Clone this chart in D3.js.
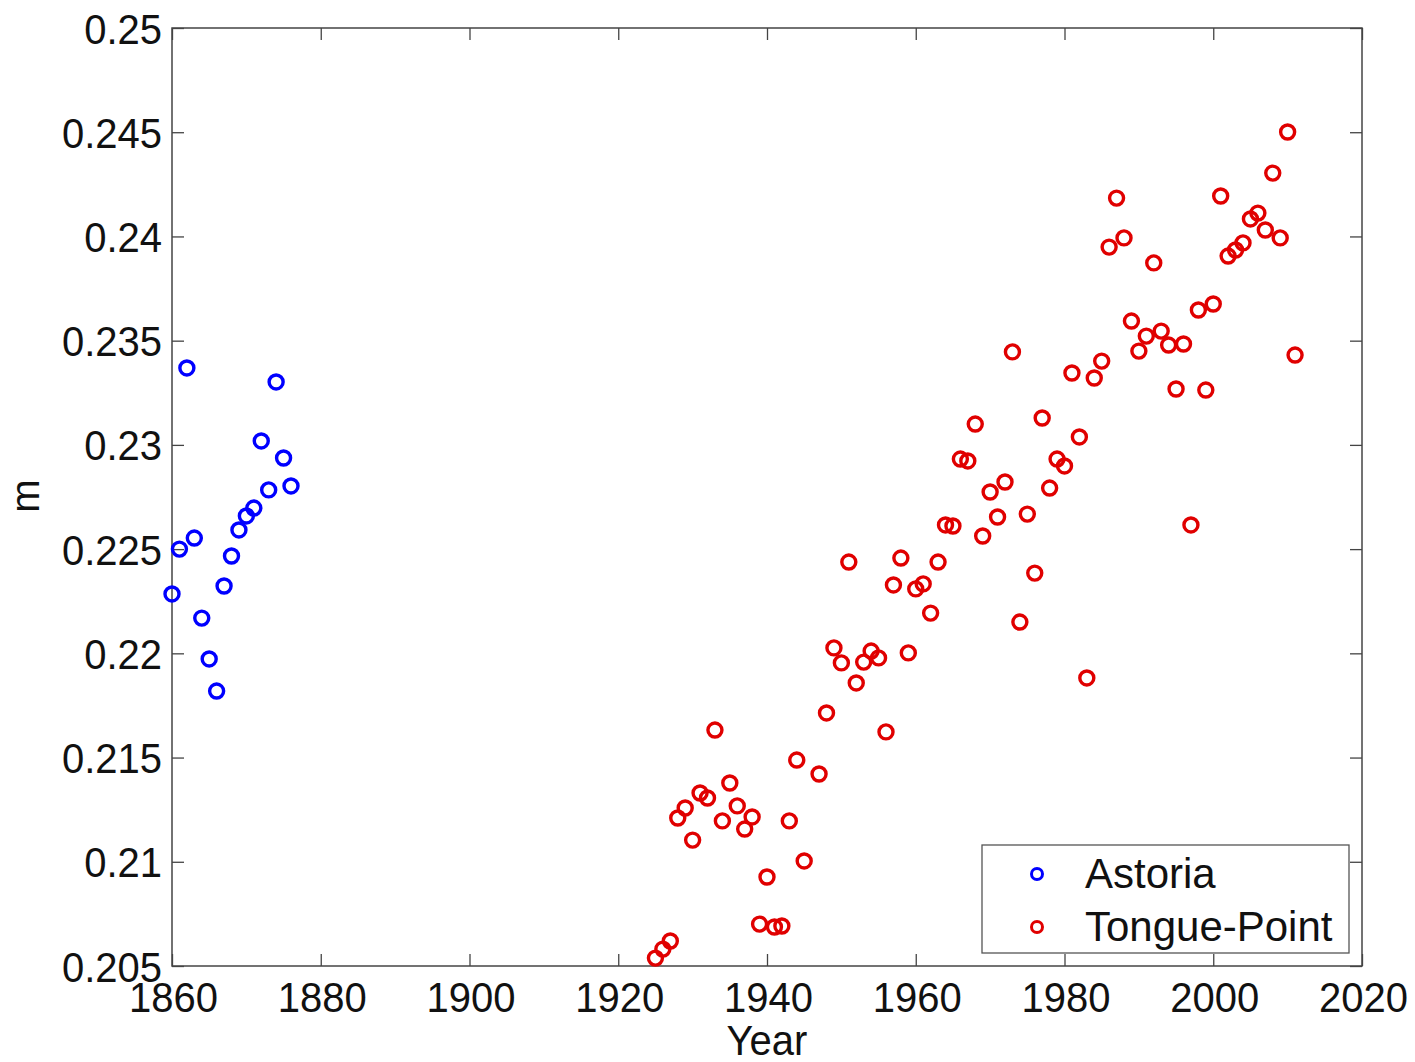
<!DOCTYPE html>
<html>
<head>
<meta charset="utf-8">
<script src="https://cdn.jsdelivr.net/npm/d3@7/dist/d3.min.js"></script>
<style>
  html, body { margin: 0; padding: 0; background: #fff; }
  svg text { font-family: "Liberation Sans", Arial, sans-serif; fill: #111; }
</style>
</head>
<body>
<svg id="chart" width="1415" height="1062"></svg>
<script>
// Annual values, Astoria gauge (1860-1876)
const astoriaYears = [1860, 1861, 1862, 1863, 1864, 1865, 1866, 1867, 1868, 1869, 1870, 1871, 1872, 1873, 1874, 1875, 1876];
const astoriaValues = [0.22285, 0.2250, 0.23369, 0.22553, 0.22169, 0.21973, 0.21819, 0.22323, 0.22467, 0.22592, 0.22659, 0.22697, 0.23019, 0.22784, 0.23302, 0.22937, 0.22803];

// Annual values, Tongue Point gauge (1925-2011, 1946 missing)
const tongueYears = [
  1925, 1926, 1927, 1928, 1929, 1930, 1931, 1932, 1933, 1934, 1935, 1936, 1937, 1938, 1939, 1940,
  1941, 1942, 1943, 1944, 1945, 1947, 1948, 1949, 1950, 1951, 1952, 1953, 1954, 1955, 1956, 1957,
  1958, 1959, 1960, 1961, 1962, 1963, 1964, 1965, 1966, 1967, 1968, 1969, 1970, 1971, 1972, 1973,
  1974, 1975, 1976, 1977, 1978, 1979, 1980, 1981, 1982, 1983, 1984, 1985, 1986, 1987, 1988, 1989,
  1990, 1991, 1992, 1993, 1994, 1995, 1996, 1997, 1998, 1999, 2000, 2001, 2002, 2003, 2004, 2005,
  2006, 2007, 2008, 2009, 2010, 2011
];
const tongueValues = [
  0.20538, 0.20581, 0.20620, 0.21210, 0.21258, 0.21104, 0.21330, 0.21306, 0.21632, 0.21196, 0.21378, 0.21268, 0.21157, 0.21215, 0.20701, 0.20927,
  0.20687, 0.20692, 0.21196, 0.21488, 0.21004, 0.21421, 0.21714, 0.22026, 0.21954, 0.22438, 0.21858, 0.21958, 0.22011, 0.21978, 0.21623, 0.22328,
  0.22457, 0.22002, 0.22309, 0.22333, 0.22193, 0.22438, 0.22616, 0.22611, 0.22932, 0.22923, 0.23100, 0.22563, 0.22774, 0.22654, 0.22822, 0.23446,
  0.22150, 0.22668, 0.22385, 0.23129, 0.22793, 0.22932, 0.22899, 0.23345, 0.23038, 0.21882, 0.23321, 0.23402, 0.23949, 0.24184, 0.23993, 0.23594,
  0.23450, 0.23522, 0.23873, 0.23546, 0.23479, 0.23268, 0.23484, 0.22616, 0.23647, 0.23263, 0.23676, 0.24194, 0.23906, 0.23935, 0.23969, 0.24084,
  0.24112, 0.24031, 0.24304, 0.23993, 0.24501, 0.23431
];

const xTicks = [1860, 1880, 1900, 1920, 1940, 1960, 1980, 2000, 2020];
const yTicks = [0.205, 0.21, 0.215, 0.22, 0.225, 0.23, 0.235, 0.24, 0.245, 0.25];
const seriesNames = ["Astoria", "Tongue-Point"];
const seriesColors = ["#0000ff", "#e00000"];

const svg = d3.select("#chart");
const plot = { left: 172, right: 1362, top: 28, bottom: 966 };

const x = d3.scaleLinear().domain([1860, 2020]).range([plot.left, plot.right]);
const y = d3.scaleLinear().domain([0.205, 0.25]).range([plot.bottom, plot.top]);

const fmtY = d => String(+d.toFixed(3));
const tickLen = 12;
const axisColor = "#444";

// Axes with inward ticks on all four sides
const gBottom = svg.append("g").attr("transform", `translate(0,${plot.bottom})`)
  .call(d3.axisBottom(x).tickValues(xTicks).tickSize(-tickLen).tickFormat(d3.format("d")));
const gTop = svg.append("g").attr("transform", `translate(0,${plot.top})`)
  .call(d3.axisTop(x).tickValues(xTicks).tickSize(-tickLen).tickFormat(""));
const gLeft = svg.append("g").attr("transform", `translate(${plot.left},0)`)
  .call(d3.axisLeft(y).tickValues(yTicks).tickSize(-tickLen).tickFormat(fmtY));
const gRight = svg.append("g").attr("transform", `translate(${plot.right},0)`)
  .call(d3.axisRight(y).tickValues(yTicks).tickSize(-tickLen).tickFormat(""));

[gBottom, gTop, gLeft, gRight].forEach(g => {
  g.select(".domain").remove();
  g.selectAll(".tick line").attr("stroke", axisColor).attr("stroke-width", 1.3);
  g.selectAll(".tick text").attr("font-size", 40).attr("fill", "#111")
    .style("font-family", "'Liberation Sans', Arial, sans-serif");
});
// Labels slightly taller than wide
gBottom.selectAll(".tick text")
  .attr("x", null).attr("y", null).attr("dy", null)
  .attr("transform", "translate(1,46) scale(1,1.06)");
gLeft.selectAll(".tick text")
  .attr("x", null).attr("dy", null)
  .attr("transform", "translate(-10,15) scale(1,1.06)");

// Plot frame
svg.append("rect")
  .attr("x", plot.left).attr("y", plot.top)
  .attr("width", plot.right - plot.left).attr("height", plot.bottom - plot.top)
  .attr("fill", "none").attr("stroke", axisColor).attr("stroke-width", 1.5);

// Axis titles
svg.append("text").attr("transform", `translate(${(plot.left + plot.right) / 2},1055) scale(1,1.06)`)
  .attr("text-anchor", "middle").attr("font-size", 40).text("Year");
svg.append("text").attr("transform", "translate(39,496) rotate(-90)")
  .attr("text-anchor", "middle").attr("font-size", 40).text("m");

// Markers
const series = [
  { years: astoriaYears, values: astoriaValues },
  { years: tongueYears, values: tongueValues }
];
series.forEach((s, i) => {
  svg.append("g").selectAll("circle")
    .data(s.years.map((yr, k) => [yr, s.values[k]]))
    .join("circle")
    .attr("cx", d => x(d[0]))
    .attr("cy", d => y(d[1]))
    .attr("r", 7)
    .attr("fill", "none")
    .attr("stroke", seriesColors[i])
    .attr("stroke-width", 3.4);
});

// Legend
const legend = svg.append("g").attr("transform", "translate(982,845)");
legend.append("rect").attr("width", 367).attr("height", 108)
  .attr("fill", "#fff").attr("stroke", "#555").attr("stroke-width", 1.3);
seriesNames.forEach((name, i) => {
  const row = legend.append("g").attr("transform", `translate(0,${29 + i * 53})`);
  row.append("circle").attr("cx", 55).attr("cy", 0).attr("r", 5.5)
    .attr("fill", "none").attr("stroke", seriesColors[i]).attr("stroke-width", 3);
  row.append("text").attr("transform", "translate(103,14) scale(1,1.03)")
    .attr("font-size", 42).text(name);
});
</script>
</body>
</html>
